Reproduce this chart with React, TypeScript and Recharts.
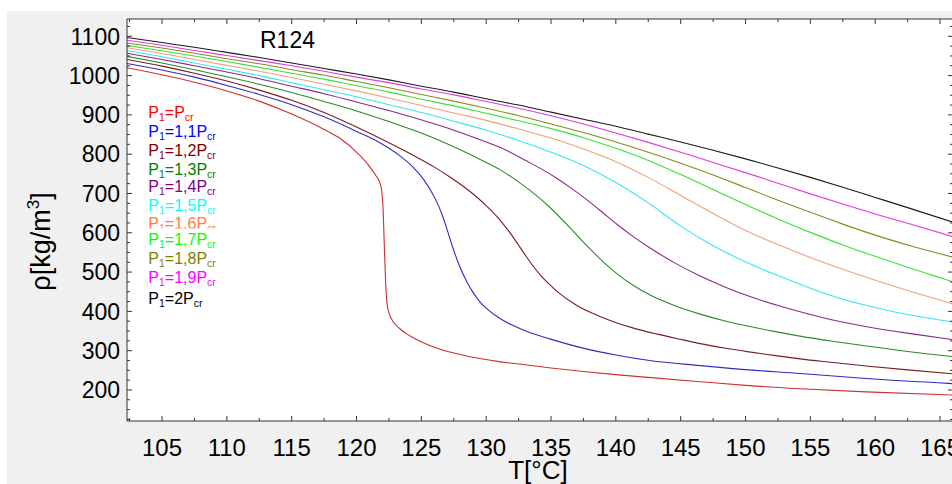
import React from 'react';
import { LineChart, Line, XAxis, YAxis, CartesianGrid } from 'recharts';

const FONT = '"Liberation Sans", Arial, Helvetica, sans-serif';

// Axis ticks
const xMajorTicks = [105, 110, 115, 120, 125, 130, 135, 140, 145, 150, 155, 160, 165];
const xAllTicks = [102.5, 105, 107.5, 110, 112.5, 115, 117.5, 120, 122.5, 125, 127.5, 130, 132.5, 135, 137.5, 140, 142.5, 145, 147.5, 150, 152.5, 155, 157.5, 160, 162.5, 165];
const yMajorTicks = [200, 300, 400, 500, 600, 700, 800, 900, 1000, 1100];
const yAllTicks = [125, 150, 175, 200, 225, 250, 275, 300, 325, 350, 375, 400, 425, 450, 475, 500, 525, 550, 575, 600, 625, 650, 675, 700, 725, 750, 775, 800, 825, 850, 875, 900, 925, 950, 975, 1000, 1025, 1050, 1075, 1100, 1125];

// [T (°C), rho (kg/m3)] per pressure ratio P1/Pcr
const p10: [number, number][] = [[102.3,1020],[105,1002],[107.5,983],[110,961],[112.5,935],[115,902],[117.5,863],[118.7,841],[120.25,797],[121,769],[121.5,745],[121.8,727],[121.95,705],[122.05,660],[122.15,560],[122.25,470],[122.35,420],[122.5,397],[122.8,375],[123.3,357],[124.1,338],[124.9,324],[126.4,304],[128,290],[129.5,280],[131,272],[133,264],[135,256],[137.5,247],[140,239],[142.5,232],[146.5,221],[150.25,211],[154.2,203],[159.3,195],[166,187]];
const p11: [number, number][] = [[102.3,1031],[105,1014],[107.5,996],[110,975],[112.5,952],[115,926],[117.5,895],[120,858],[121.8,829],[123.3,797],[124.3,769],[125.1,739],[125.7,709],[126.2,678],[126.6,646],[126.9,617],[127.4,565],[127.95,515],[128.5,476],[128.97,449],[129.5,425],[130,408],[131,383],[132,365],[133.2,348],[134.9,330],[137.4,307],[140,289],[142.6,275],[146.5,262],[150.25,251],[154.2,242],[159.3,229],[166,216]];
const p12: [number, number][] = [[102.3,1041],[105,1024],[107.5,1006],[110,986],[112.5,963],[115,937],[117.5,906],[120,869],[122.5,829],[124.6,793],[126,767],[127.2,742],[128.2,719],[129.2,693],[130.1,666],[131,635],[131.7,606],[132.3,578],[133,544],[133.6,516],[134.3,488],[134.9,468],[135.6,447],[136.9,417],[138.2,395],[139.7,375],[141.3,358],[143.2,342],[145.1,328],[146.5,318],[148.5,306],[150.25,297],[152.2,288],[154.2,279],[156.7,270],[159.3,261],[162.5,251],[166,241]];
const p13: [number, number][] = [[102.3,1049],[105,1032],[107.5,1015],[110,997],[112.5,978],[115,957],[117.5,934],[120,910],[122.5,883],[124.9,855],[127.5,819],[130,779],[131,762],[132.3,734],[133.6,702],[134.9,665],[136.2,622],[137.5,576],[138.8,533],[140,498],[141.3,467],[142.6,442],[144.5,415],[146.5,393],[148.5,375],[150.25,362],[152.2,349],[154.2,337],[156.7,324],[159.3,312],[162.5,298],[166,285]];
const p14: [number, number][] = [[102.3,1057],[105,1041],[107.5,1025],[110,1009],[112.5,992],[115,973],[117.5,954],[120,933],[122.5,911],[124.9,888],[127.5,861],[130,831],[131.1,817],[133.1,783],[135.2,744],[136.5,715],[137.8,683],[139,651],[140.1,621],[141.4,589],[142.7,560],[144.5,524],[146.5,490],[148.5,461],[150.4,437],[152.9,411],[155,392],[157,376],[160,357],[163,342],[166,328]];
const p15: [number, number][] = [[102.3,1064],[105,1048],[107.5,1032],[110,1016],[112.5,1000],[115,982],[117.5,964],[120,946],[122.5,926],[125,906],[127.5,884],[130,861],[132.5,835],[135,805],[137.5,771],[140,728],[142.5,676],[145,617],[147.5,567],[150,526],[152.5,491],[155,459],[157.5,431],[160,410],[162.5,392],[166,373]];
const p16: [number, number][] = [[102.3,1071],[105,1056],[107.5,1041],[110,1026],[112.5,1011],[115,995],[117.5,978],[120,961],[122.5,943],[125,924],[127.5,905],[130,886],[132.5,864],[135,841],[137.5,813],[140,781],[142.5,741],[145,695],[147.5,649],[150,606],[152.5,570],[155,537],[157.5,507],[160,479],[162.5,453],[166,419]];
const p17: [number, number][] = [[102.3,1077],[105,1063],[107.5,1050],[110,1036],[112.5,1021],[115,1006],[117.5,991],[120,974],[122.5,958],[125,940],[127.5,923],[130,904],[132.5,885],[135,865],[137.5,842],[140,815],[142.5,784],[145,748],[147.5,710],[150,672],[152.5,635],[155,601],[157.5,569],[160,540],[162.5,512],[166,475]];
const p18: [number, number][] = [[102.3,1083],[105,1070],[107.5,1057],[110,1043],[112.5,1030],[115,1015],[117.5,1001],[120,985],[122.5,969],[125,952],[127.5,935],[130,917],[132.5,898],[135,877],[137.5,855],[140,831],[142.5,805],[145,777],[147.5,747],[150,715],[152.5,683],[155,652],[157.5,622],[160,594],[162.5,569],[166,538]];
const p19: [number, number][] = [[102.3,1090],[105,1077],[107.5,1064],[110,1051],[112.5,1038],[115,1025],[117.5,1011],[120,996],[122.5,982],[125,966],[127.5,951],[130,934],[132.5,917],[135,898],[137.5,877],[140,854],[142.5,830],[145,805],[147.5,779],[150,753],[152.5,726],[155,699],[157.5,673],[160,648],[162.5,624],[166,590]];
const p20: [number, number][] = [[102.3,1097],[105,1084],[107.5,1072],[110,1059],[112.5,1046],[115,1032],[117.5,1018],[120,1004],[122.5,989],[125,973],[127.5,958],[130,941],[132.5,925],[135,907],[137.5,889],[140,871],[142.5,851],[145,831],[147.5,810],[150,788],[152.5,765],[155,741],[157.5,716],[160,690],[162.5,664],[166,627]];

const coefficients = ['', '1,1', '1,2', '1,3', '1,4', '1,5', '1,6', '1,7', '1,8', '1,9', '2'];
const lineColors = ['#cc3030', '#2e2ec0', '#7a1e1e', '#2a8a2a', '#882a88', '#38e6f0', '#f0a078', '#38e038', '#8a8a22', '#e03ae0', '#1a1a1a'];
const textColors = ['#ff0000', '#0000ff', '#800000', '#008000', '#800080', '#00ffff', '#ff8040', '#00ff00', '#808000', '#ff00ff', '#000000'];
const curves = [p10, p11, p12, p13, p14, p15, p16, p17, p18, p19, p20];
// legend baselines (within the gray panel)
const legendY = [107.3, 126.3, 144.7, 164, 180.7, 200, 218.3, 234, 253.3, 272.3, 293.3];

const series = curves.map((c, i) => ({
  key: 's' + i,
  color: lineColors[i],
  data: c.map(([t, rho]) => ({ t, rho })),
}));

const AXIS = '#333333';

const XTick = (props: any) => {
  const { x, y, payload } = props;
  const major = xMajorTicks.includes(payload.value);
  return (
    <g>
      <line x1={x} x2={x} y1={y} y2={y - (major ? 5 : 3)} stroke={AXIS} strokeWidth={1} />
      {major && (
        <text x={x} y={y + 35} textAnchor="middle" fontSize={24} fontFamily={FONT} fill="#000">
          {payload.value}
        </text>
      )}
    </g>
  );
};

const TopTick = (props: any) => {
  const { x, y, payload } = props;
  const major = xMajorTicks.includes(payload.value);
  return <line x1={x} x2={x} y1={y} y2={y + (major ? 5 : 3)} stroke={AXIS} strokeWidth={1} />;
};

const YTick = (props: any) => {
  const { x, y, payload } = props;
  const major = yMajorTicks.includes(payload.value);
  return (
    <g>
      <line x1={x} x2={x + (major ? 5 : 3)} y1={y} y2={y} stroke={AXIS} strokeWidth={1} />
      {major && (
        <text x={x - 7} y={y} dy="0.36em" textAnchor="end" fontSize={23} fontFamily={FONT} fill="#000">
          {payload.value}
        </text>
      )}
    </g>
  );
};

const RightTick = (props: any) => {
  const { x, y, payload } = props;
  const major = yMajorTicks.includes(payload.value);
  return <line x1={x} x2={x - (major ? 5 : 3)} y1={y} y2={y} stroke={AXIS} strokeWidth={1} />;
};

export default function App() {
  const W = 945;
  const H = 473;
  return (
    <div style={{ position: 'absolute', left: 7, top: 11, width: W, height: H, overflow: 'hidden', background: '#f0f0f0' }}>
      <LineChart width={960} height={H} margin={{ top: 7, right: 13, bottom: 62, left: 0 }}>
        <CartesianGrid xAxisId="x" yAxisId="y" horizontal={false} vertical={false} fill="#ffffff" />
        <XAxis
          xAxisId="x"
          type="number"
          dataKey="t"
          domain={[102.3, 166]}
          allowDataOverflow
          ticks={xAllTicks}
          interval={0}
          height={1}
          tickSize={0}
          tickMargin={0}
          tickLine={false}
          axisLine={{ stroke: AXIS, strokeWidth: 1 }}
          tick={XTick}
        />
        <XAxis
          xAxisId="top"
          orientation="top"
          type="number"
          dataKey="t"
          domain={[102.3, 166]}
          allowDataOverflow
          ticks={xAllTicks}
          interval={0}
          height={1}
          tickSize={0}
          tickMargin={0}
          tickLine={false}
          axisLine={{ stroke: AXIS, strokeWidth: 1 }}
          tick={TopTick}
        />
        <YAxis
          yAxisId="y"
          type="number"
          domain={[121, 1144]}
          allowDataOverflow
          ticks={yAllTicks}
          interval={0}
          width={120}
          tickSize={0}
          tickMargin={0}
          tickLine={false}
          axisLine={{ stroke: AXIS, strokeWidth: 1 }}
          tick={YTick}
        />
        <YAxis
          yAxisId="right"
          orientation="right"
          type="number"
          domain={[121, 1144]}
          allowDataOverflow
          ticks={yAllTicks}
          interval={0}
          width={1}
          tickSize={0}
          tickMargin={0}
          tickLine={false}
          axisLine={{ stroke: AXIS, strokeWidth: 1 }}
          tick={RightTick}
        />
        {series.map((s) => (
          <Line
            key={s.key}
            xAxisId="x"
            yAxisId="y"
            data={s.data}
            dataKey="rho"
            type="monotone"
            stroke={s.color}
            strokeWidth={1.1}
            dot={false}
            activeDot={false}
            isAnimationActive={false}
          />
        ))}
      </LineChart>
      <svg width={W} height={H} style={{ position: 'absolute', left: 0, top: 0, pointerEvents: 'none' }}>
        <text x={253} y={37.3} fontSize={23} fontFamily={FONT} fill="#000">R124</text>
        {coefficients.map((c, i) => (
          <g key={i}>
            {i === 7 && <rect x={140} y={217.5} width={90} height={21} fill="#ffffff" />}
            <text x={141.3} y={legendY[i]} fontSize={16} fontFamily={FONT} fill={textColors[i]}>
              P<tspan fontSize={10.5} dy={3}>1</tspan>
              <tspan dy={-3}>{'=' + c + 'P'}</tspan>
              <tspan fontSize={10.5} dy={3}>cr</tspan>
            </text>
          </g>
        ))}
        <text x={531} y={467.6} textAnchor="middle" fontSize={26} fontFamily={FONT} fill="#000">T[°C]</text>
        <text transform="translate(43,230.5) rotate(-90)" textAnchor="middle" fontSize={27} fontFamily={FONT} fill="#000">
          ρ[kg/m<tspan fontSize={17} dy={-11}>3</tspan><tspan dy={11}>]</tspan>
        </text>
      </svg>
    </div>
  );
}
